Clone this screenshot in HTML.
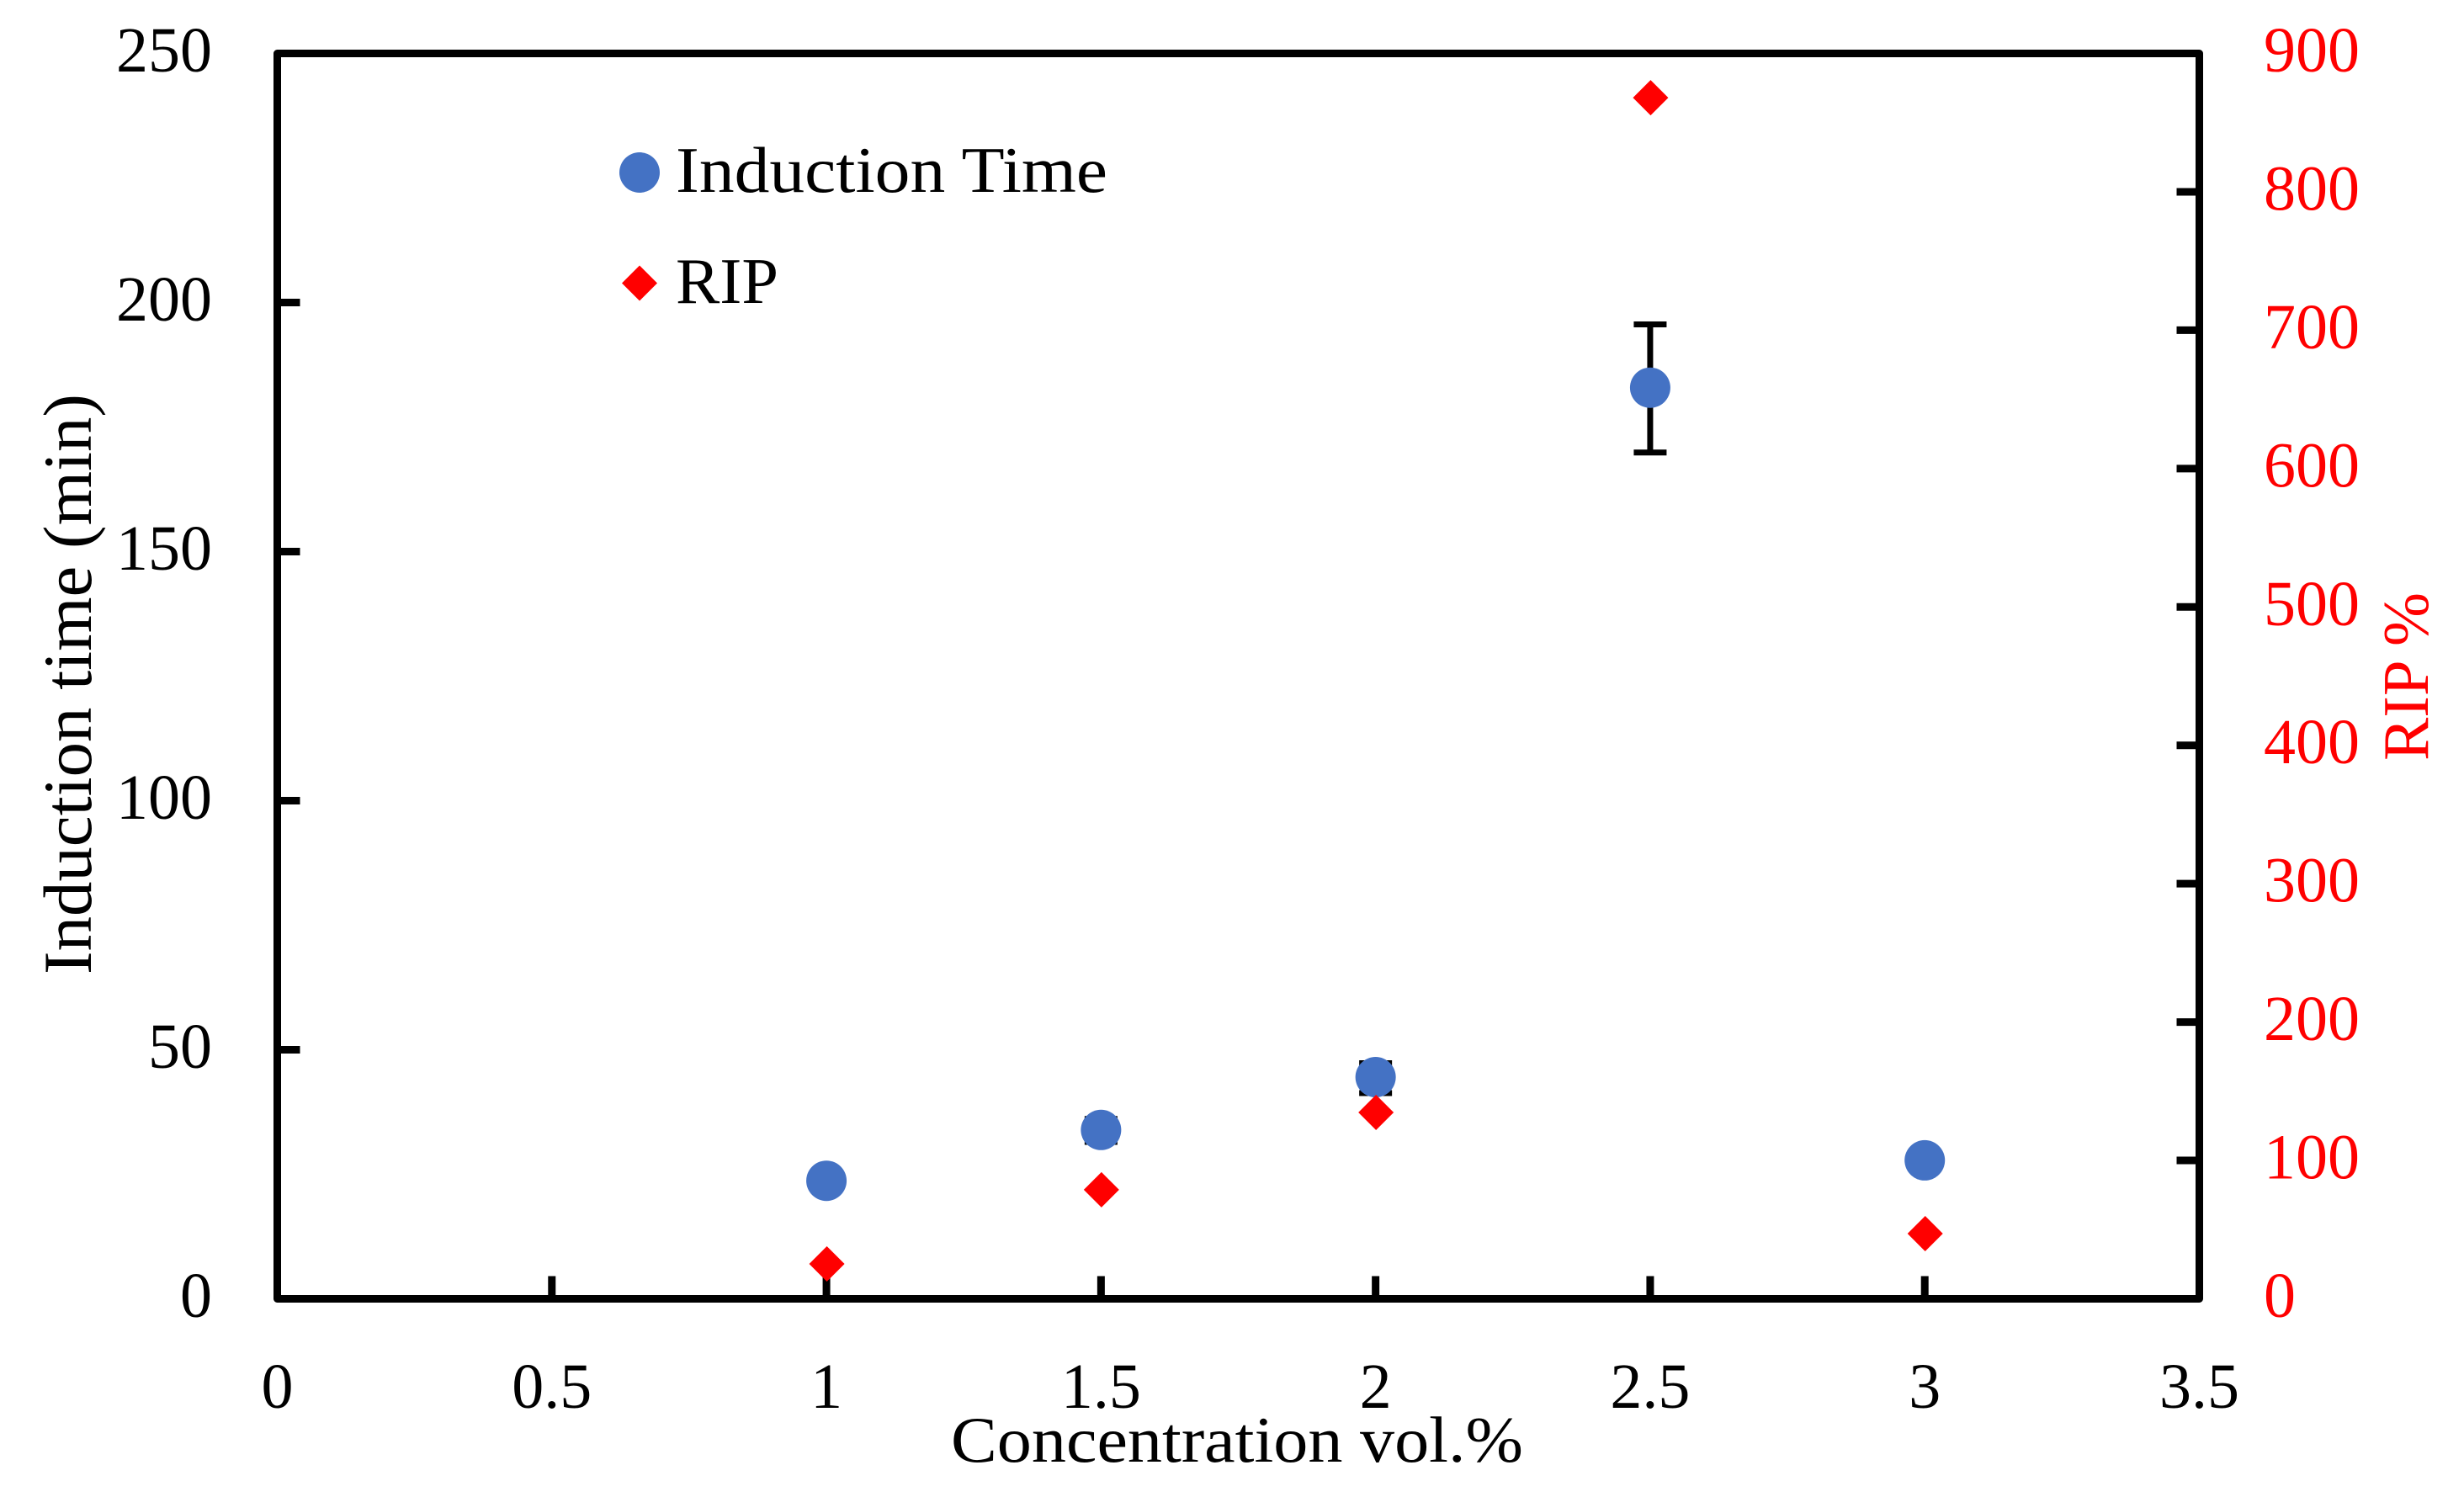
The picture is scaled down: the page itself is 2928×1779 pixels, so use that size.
<!DOCTYPE html>
<html lang="en">
<head>
<meta charset="utf-8">
<title>Induction time and RIP vs concentration</title>
<style>
  html, body { margin: 0; padding: 0; background: #ffffff; }
  svg { display: block; }
  text { font-family: "Liberation Serif", "DejaVu Serif", serif; font-size: 77px; fill: #000000; }
  .tick-label { font-size: 76px; }
  .red { fill: #ff0000; }
</style>
</head>
<body>
<svg id="chart" xmlns="http://www.w3.org/2000/svg" width="2928" height="1779" viewBox="0 0 2928 1779">
  <rect x="0" y="0" width="2928" height="1779" fill="#ffffff"/>
  <g id="ticks"></g>
  <g id="tick-labels"></g>
  <g id="errors"></g>
  <g id="circles"></g>
  <g id="diamonds"></g>
  <rect x="329.5" y="63.5" width="2284" height="1480" fill="none" stroke="#000000" stroke-width="9" stroke-linejoin="round"/>
  <text x="1130" y="1737" textLength="680" lengthAdjust="spacingAndGlyphs">Concentration vol.%</text>
  <text style="font-size:82px" transform="translate(108,1158) rotate(-90)" x="0" y="0" textLength="690" lengthAdjust="spacingAndGlyphs">Induction time (min)</text>
  <text class="red" transform="translate(2885,904) rotate(-90)" x="0" y="0" textLength="200" lengthAdjust="spacingAndGlyphs">RIP %</text>
  <g>
    <circle cx="760" cy="205" r="24" fill="#4472c4"/>
    <text x="803" y="228" textLength="513" lengthAdjust="spacingAndGlyphs">Induction Time</text>
    <polygon points="760,315.5 781,336.5 760,357.5 739,336.5" fill="#ff0000"/>
    <text x="803" y="360" textLength="122" lengthAdjust="spacingAndGlyphs">RIP</text>
  </g>
</svg>
<script>
const concentrations = [1, 1.5, 2, 2.5, 3];
const inductionTime = [23.7, 33.9, 44.5, 182.9, 27.8];
const inductionHigh = [24.7, 36.1, 47.3, 195.6, 28.8];
const inductionLow = [22.7, 31.5, 41.3, 169.9, 26.8];
const ripValues = [25.2, 78.8, 134.7, 868, 47.1];
const xTickValues = [0, 0.5, 1, 1.5, 2, 2.5, 3, 3.5];
const leftTickValues = [0, 50, 100, 150, 200, 250];
const rightTickValues = [0, 100, 200, 300, 400, 500, 600, 700, 800, 900];

const NS = 'http://www.w3.org/2000/svg';
const plotLeft = 329.5, plotRight = 2613.5, plotTop = 63.5, plotBottom = 1543.5;
const xMax = 3.5, leftMax = 250, rightMax = 900;

function xScale(v) { return plotLeft + (plotRight - plotLeft) * v / xMax; }
function leftScale(v) { return plotBottom - (plotBottom - plotTop) * v / leftMax; }
function rightScale(v) { return plotBottom - (plotBottom - plotTop) * v / rightMax; }

function make(tag, parentId, attrs) {
  const el = document.createElementNS(NS, tag);
  for (const k in attrs) el.setAttribute(k, attrs[k]);
  document.getElementById(parentId).appendChild(el);
  return el;
}

xTickValues.forEach(function (v) {
  const x = xScale(v);
  if (v > 0 && v < xMax) {
    const t = make('line', 'ticks', { x1: x, x2: x, y1: plotBottom, y2: plotBottom - 27, stroke: '#000', 'stroke-width': 9 });
    
    
  }
  const l = make('text', 'tick-labels', { x: x, y: 1673, 'text-anchor': 'middle', class: 'tick-label' });
  l.textContent = String(v);
  
  
});

leftTickValues.forEach(function (v) {
  const y = leftScale(v);
  if (v > 0 && v < leftMax) {
    const t = make('line', 'ticks', { x1: plotLeft, x2: plotLeft + 27, y1: y, y2: y, stroke: '#000', 'stroke-width': 9 });
    
    
  }
  const l = make('text', 'tick-labels', { x: 252, y: y + 21.5, 'text-anchor': 'end', class: 'tick-label' });
  l.textContent = String(v);
  
  
});

rightTickValues.forEach(function (v) {
  const y = rightScale(v);
  if (v > 0 && v < rightMax) {
    const t = make('line', 'ticks', { x1: plotRight - 27, x2: plotRight, y1: y, y2: y, stroke: '#000', 'stroke-width': 9 });
    
    
  }
  const l = make('text', 'tick-labels', { x: 2690, y: y + 21.5, 'text-anchor': 'start', class: 'tick-label red' });
  l.textContent = String(v);
  
  
});

concentrations.forEach(function (c, i) {
  const x = xScale(c);
  const yHigh = leftScale(inductionHigh[i]);
  const yLow = leftScale(inductionLow[i]);

  const stem = make('line', 'errors', { x1: x, x2: x, y1: yHigh, y2: yLow, stroke: '#000', 'stroke-width': 7 });
  
  

  const capTop = make('line', 'errors', { x1: x - 19.5, x2: x + 19.5, y1: yHigh, y2: yHigh, stroke: '#000', 'stroke-width': 7 });
  
  

  const capBottom = make('line', 'errors', { x1: x - 19.5, x2: x + 19.5, y1: yLow, y2: yLow, stroke: '#000', 'stroke-width': 7 });
  
  

  const dot = make('circle', 'circles', { cx: x, cy: leftScale(inductionTime[i]), r: 24, fill: '#4472c4' });
  
  

  const ry = rightScale(ripValues[i]);
  const dx = x + 0.5;
  const pts = [[dx, ry - 21], [dx + 21, ry], [dx, ry + 21], [dx - 21, ry]].map(function (p) { return p.join(','); }).join(' ');
  const dia = make('polygon', 'diamonds', { points: pts, fill: '#ff0000' });
  
  
});
</script>
</body>
</html>
